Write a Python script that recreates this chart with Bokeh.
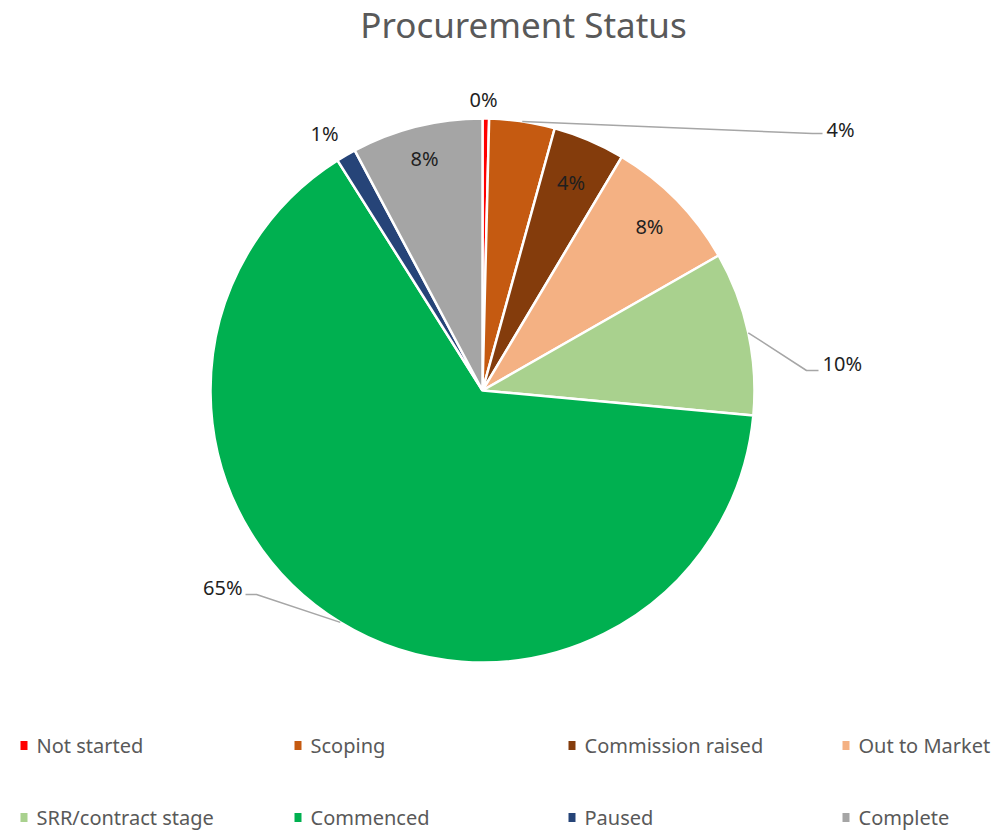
import math
from bokeh.plotting import figure
from bokeh.models import Range1d, ColumnDataSource
from bokeh.core.properties import value
from bokeh.embed import file_html
from bokeh.resources import INLINE

# ---- data ----
categories = ["Not started", "Scoping", "Commission raised", "Out to Market",
              "SRR/contract stage", "Commenced", "Paused", "Complete"]
counts = [1, 10, 11, 21, 25, 166, 3, 20]
colors = ["#FF0000", "#C55A11", "#843C0C", "#F4B183",
          "#A9D18E", "#00B050", "#264478", "#A5A5A5"]

# ---- style / layout ----
W, H = 1001, 830
CX, CY, R = 482, 830 - 390, 272
FONT = "Noto Sans"
LBL = "20px"
# label placement
label_style = [
    ("free", 483, 830 - 99),
    ("leader", 826, 830 - 129, 812, 830 - 133, 822, "left"),
    ("in", 0.83),
    ("in", 0.86),
    ("leader", 822, 830 - 363, 806, 830 - 370, 818, "left"),
    ("leader", 242, 830 - 587, 256, 830 - 594, 245, "right"),
    ("free", 324, 830 - 133),
    ("in", 0.88),
]

total = sum(counts)
fracs = [c / total for c in counts]
starts, ends, mids = [], [], []
cum = 0.0
for f in fracs:
    a0 = math.pi / 2 - 2 * math.pi * (cum + f)
    a1 = math.pi / 2 - 2 * math.pi * cum
    starts.append(a0)
    ends.append(a1)
    mids.append((a0 + a1) / 2)
    cum += f
labels = ["%d%%" % round(f * 100) for f in fracs]

p = figure(width=W, height=H, output_backend="svg", toolbar_location=None,
           x_range=Range1d(0, W), y_range=Range1d(830 - H, 830),
           min_border=0, outline_line_color=None)
p.axis.visible = False
p.grid.visible = False

src = ColumnDataSource(dict(start=starts, end=ends, color=colors, cat=categories))
p.wedge(x=CX, y=CY, radius=R, start_angle="start", end_angle="end",
        fill_color="color", line_color="white", line_width=2.5, source=src)

# data labels
for i, st in enumerate(label_style):
    if st[0] == "in":
        r = R * st[1]
        x = CX + r * math.cos(mids[i])
        y = CY + r * math.sin(mids[i])
        p.text(x=[x], y=[y], text=[labels[i]], text_align="center", text_baseline="middle",
               text_font=value(FONT), text_font_size=LBL, text_color="#1F1F1F")
    elif st[0] == "free":
        p.text(x=[st[1]], y=[st[2]], text=[labels[i]], text_align="center", text_baseline="middle",
               text_font=value(FONT), text_font_size=LBL, text_color="#1F1F1F")
    else:
        _, lx, ly, ex, ey, endx, align = st
        sx = CX + R * math.cos(mids[i])
        sy = CY + R * math.sin(mids[i])
        p.line(x=[sx, ex, endx], y=[sy, ey, ey], line_color="#A6A6A6", line_width=1.5)
        p.text(x=[lx], y=[ly], text=[labels[i]], text_align=align, text_baseline="middle",
               text_font=value(FONT), text_font_size=LBL, text_color="#1F1F1F")

# title
p.text(x=[523], y=[830 - 24], text=["Procurement Status"], text_align="center",
       text_baseline="middle", text_font=value(FONT), text_font_size="35px",
       text_color="#595959")

# legend
col_x = [20, 294, 568, 842]
row_y = [830 - 745, 830 - 817]
for i, cat in enumerate(categories):
    x = col_x[i % 4]
    y = row_y[i // 4]
    p.rect(x=[x + 3.5], y=[y], width=7, height=9, fill_color=colors[i], line_color=None)
    p.text(x=[x + 16], y=[y], text=[cat], text_align="left", text_baseline="middle",
           text_font=value(FONT), text_font_size="20px", text_color="#595959")

open("out.html", "w").write(file_html(p, INLINE))
